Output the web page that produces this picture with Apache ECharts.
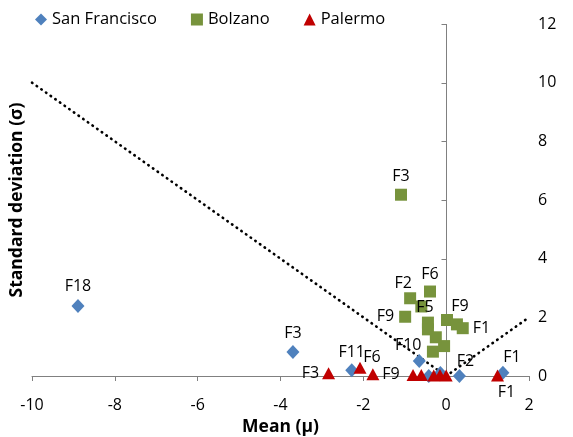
<!DOCTYPE html>
<html>
<head>
<meta charset="utf-8">
<script src="https://cdn.jsdelivr.net/npm/echarts@6/dist/echarts.min.js"></script>
<style>html,body{margin:0;padding:0;background:#fff;}#c{width:573px;height:437px;}</style>
</head>
<body>
<div id="c"></div>
<script>
// ---- data ----
var sfX = [-8.89, -3.70, -2.28, -0.65, -0.42, -0.14, 0.32, 1.37];
var sfY = [2.39, 0.82, 0.20, 0.51, 0.00, 0.10, 0.00, 0.11];
var sfNames = ['F18', 'F3', 'F11', 'F10', '', '', 'F2', 'F1'];

var bzX = [-1.09, -0.39, -0.87, -0.60, -0.99, -0.44, -0.44, -0.25, -0.05, -0.32, 0.02, 0.26, 0.40];
var bzY = [6.18, 2.88, 2.65, 2.37, 2.02, 1.82, 1.59, 1.32, 1.02, 0.83, 1.91, 1.76, 1.63];
var bzNames = ['F3', 'F6', 'F2', '', 'F9', 'F5', '', '', '', '', 'F9', '', 'F1'];

var paX = [-2.84, -2.08, -1.77, -0.80, -0.60, -0.30, -0.15, 0.00, 1.24];
var paY = [0.09, 0.28, 0.06, 0.03, 0.03, 0.02, 0.03, 0.02, 0.02];
var paNames = ['F3', 'F6', 'F9', '', '', '', '', '', 'F1'];

var refLineX = [-10, 0, 2];
var refLineY = [10, 0, 2];

var xTicks = [-10, -8, -6, -4, -2, 0, 2];
var yTicks = [0, 2, 4, 6, 8, 10, 12];
var yAxisCrossX = 0;

// ---- label placement (style only) ----
var labelPlace = {
  sf: {'F18': {position: 'top', distance: 4}, 'F3': {position: 'top', distance: 4},
       'F11': {position: 'top', distance: 3}, 'F10': {position: 'top', distance: 1, offset: [-11, 0]},
       'F2': {position: 'top', distance: 0, offset: [6, 0]}, 'F1': {position: 'top', distance: 0, offset: [9, 0]}},
  bz: {'F3': {position: 'top', distance: 4}, 'F6': {position: 'top', distance: 3},
       'F2': {position: 'top', distance: 1, offset: [-7, 0]}, 'F9L': {position: 'left', distance: 5},
       'F5': {position: 'top', distance: 1, offset: [-3, 0]}, 'F9R': {position: 'top', distance: 0, offset: [13, 0]},
       'F1': {position: 'right', distance: 4}},
  pa: {'F3': {position: 'left', distance: 3}, 'F6': {position: 'top', distance: 0, offset: [12, 4]},
       'F9': {position: 'right', distance: 3}, 'F1': {position: 'bottom', distance: 3, offset: [9, 0]}}
};

function build(xs, ys, names, key) {
  return xs.map(function (x, i) {
    var item = {value: [x, ys[i]]};
    var n = names[i];
    if (n) {
      var k = n;
      if (key === 'bz' && n === 'F9') k = (x < 0) ? 'F9L' : 'F9R';
      var p = labelPlace[key][k] || {position: 'top'};
      item.label = Object.assign({show: true, formatter: n}, p);
    }
    return item;
  });
}

var FONT = 'Open Sans';
var labelFont = {color: '#000', fontSize: 16, fontFamily: FONT};
var AXIS_GRAY = '#808080';

var chart = echarts.init(document.getElementById('c'), null, {renderer: 'canvas'});
chart.setOption({
  animation: false,
  backgroundColor: '#fff',
  textStyle: {fontFamily: FONT},
  legend: {
    top: 6, left: 30, itemGap: 34, itemWidth: 12, itemHeight: 12,
    textStyle: {fontSize: 16.5, color: '#000', fontFamily: FONT},
    data: [{name: 'San Francisco', icon: 'diamond'}, {name: 'Bolzano', icon: 'rect'}, {name: 'Palermo', icon: 'triangle'}]
  },
  grid: {left: 32, right: 44, top: 24, bottom: 61, containLabel: false, outerBoundsMode: 'none'},
  xAxis: {
    type: 'value', min: xTicks[0], max: xTicks[xTicks.length - 1], interval: 2,
    name: 'Mean (\u03bc)', nameLocation: 'middle', nameGap: 41,
    nameTextStyle: {fontSize: 17.5, fontWeight: 'bold', color: '#000', fontFamily: FONT},
    axisLine: {show: true, onZero: false, lineStyle: {color: AXIS_GRAY, width: 1}},
    axisTick: {show: true, inside: false, length: 5, lineStyle: {color: AXIS_GRAY}},
    axisLabel: {fontSize: 16, color: '#000', margin: 21, fontFamily: FONT},
    splitLine: {show: false}
  },
  yAxis: [{
    type: 'value', min: yTicks[0], max: yTicks[yTicks.length - 1], interval: 2, position: 'left',
    name: 'Standard deviation (\u03c3)', nameLocation: 'middle', nameGap: 6, nameRotate: 90,
    nameTextStyle: {fontSize: 17.5, fontWeight: 'bold', color: '#000', fontFamily: FONT},
    axisLine: {show: false, onZero: false}, axisTick: {show: false}, axisLabel: {show: false}, splitLine: {show: false}
  }, {
    type: 'value', min: yTicks[0], max: yTicks[yTicks.length - 1], interval: 2, position: 'right',
    axisLine: {show: false, onZero: false}, axisTick: {show: false},
    axisLabel: {fontSize: 16, color: '#000', margin: 9, fontFamily: FONT}, splitLine: {show: false}
  }],
  series: [{
    // vertical axis (line + left-pointing ticks) crossing the horizontal axis at x = 0
    name: 'yAxisCross', type: 'custom', silent: true, clip: false, z: 1,
    data: [[yAxisCrossX, yTicks[0], yTicks[yTicks.length - 1]]],
    renderItem: function (params, api) {
      var x0 = api.value(0);
      var b = api.coord([x0, api.value(1)]);
      var t = api.coord([x0, api.value(2)]);
      var px = Math.round(b[0]) + 0.5;
      var children = [{
        type: 'line',
        shape: {x1: px, y1: Math.round(t[1]), x2: px, y2: Math.round(b[1])},
        style: {stroke: AXIS_GRAY, lineWidth: 1, fill: null}
      }];
      yTicks.forEach(function (v) {
        var p = api.coord([x0, v]);
        var py = Math.round(p[1]) + 0.5;
        children.push({
          type: 'line',
          shape: {x1: px - 5, y1: py, x2: px, y2: py},
          style: {stroke: AXIS_GRAY, lineWidth: 1, fill: null}
        });
      });
      return {type: 'group', children: children};
    }
  }, {
    name: 'ref', type: 'line', silent: true, symbol: 'none',
    data: refLineX.map(function (x, i) { return [x, refLineY[i]]; }),
    lineStyle: {color: '#000', width: 2.6, type: [0.5, 5.2], cap: 'round'}
  }, {
    name: 'San Francisco', type: 'scatter', symbol: 'diamond', symbolSize: [13, 14], clip: false,
    itemStyle: {color: '#4F81BD', opacity: 1}, label: labelFont,
    data: build(sfX, sfY, sfNames, 'sf'), z: 3
  }, {
    name: 'Bolzano', type: 'scatter', symbol: 'rect', symbolSize: 12, clip: false,
    itemStyle: {color: '#77933C', opacity: 1}, label: labelFont,
    data: build(bzX, bzY, bzNames, 'bz'), z: 2
  }, {
    name: 'Palermo', type: 'scatter', symbol: 'triangle', symbolSize: [13, 12], clip: false,
    itemStyle: {color: '#C00000', opacity: 1}, label: labelFont,
    data: build(paX, paY, paNames, 'pa'), z: 4
  }]
});
</script>
</body>
</html>
